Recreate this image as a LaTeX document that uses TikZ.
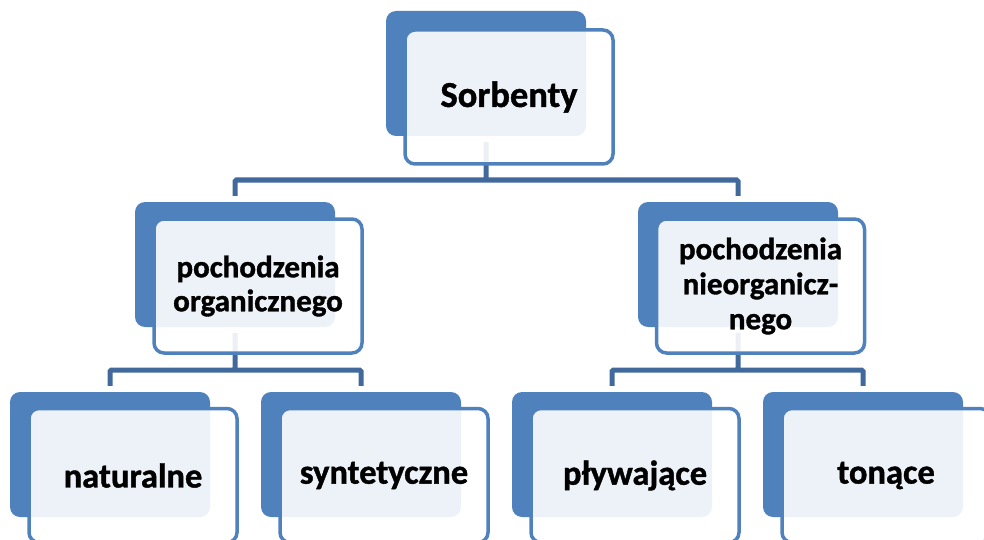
\documentclass[tikz,border=0pt]{standalone}
\usepackage{fontspec}
\setmainfont{Carlito}[BoldFeatures={FakeBold=1.2}]
\definecolor{accent}{HTML}{4F81BD}
\definecolor{conncol}{HTML}{41699B}
\tikzset{
  backbox/.style={draw=none, fill=accent, rounded corners=10pt, minimum width=200pt, minimum height=125pt, inner sep=0pt},
  frontbox/.style={draw=accent, line width=3.5pt, fill=white, fill opacity=0.9, text opacity=1, rounded corners=10pt, minimum width=208pt, minimum height=134pt, inner sep=0pt, align=center, font=\bfseries\fontsize{34.5}{36}\selectfont},
  conn/.style={draw=conncol, line width=5pt, rounded corners=1.5pt}
}
\begin{document}
\begin{tikzpicture}[x=1pt, y=-1pt]
\useasboundingbox (0,0) rectangle (984,540);
% back boxes
\node[backbox] (b0) at (486,73.5) {};
\node[backbox] (b1) at (235,264.5) {};
\node[backbox] (b2) at (738,264.5) {};
\node[backbox] (b11) at (110,454.5) {};
\node[backbox] (b12) at (361,454.5) {};
\node[backbox] (b21) at (612,454.5) {};
\node[backbox] (b22) at (863,454.5) {};
% junctions
\coordinate (j0) at (486,180);
\coordinate (j1) at (235,370);
\coordinate (j2) at (738,370);
% connectors
\draw[conn] ([yshift=-6pt]b0.south) -- (j0) -| ([yshift=6pt]b1.north);
\draw[conn] (j0) -| ([yshift=6pt]b2.north);
\draw[conn] ([yshift=-6pt]b1.south) -- (j1) -| ([yshift=6pt]b11.north);
\draw[conn] (j1) -| ([yshift=6pt]b12.north);
\draw[conn] ([yshift=-6pt]b2.south) -- (j2) -| ([yshift=6pt]b21.north);
\draw[conn] (j2) -| ([yshift=6pt]b22.north);
% front boxes
\node[frontbox, font=\bfseries\fontsize{36.5}{40}\selectfont] (f0) at (509,97) {Sorbenty};
\node[frontbox, font=\bfseries\fontsize{31}{34}\selectfont] (f1) at (258,286) {pochodzenia\\organicznego};
\node[frontbox, font=\bfseries\fontsize{31}{35}\selectfont] (f2) at (760.5,286) {pochodzenia\\nieorganicz-\\nego};
\node[frontbox] (f11) at (133,475.5) {naturalne};
\node[frontbox] (f12) at (384,475.5) {syntetyczne};
\node[frontbox] (f21) at (635,475.5) {pływające};
\node[frontbox] (f22) at (886,475.5) {tonące};
\end{tikzpicture}
\end{document}
